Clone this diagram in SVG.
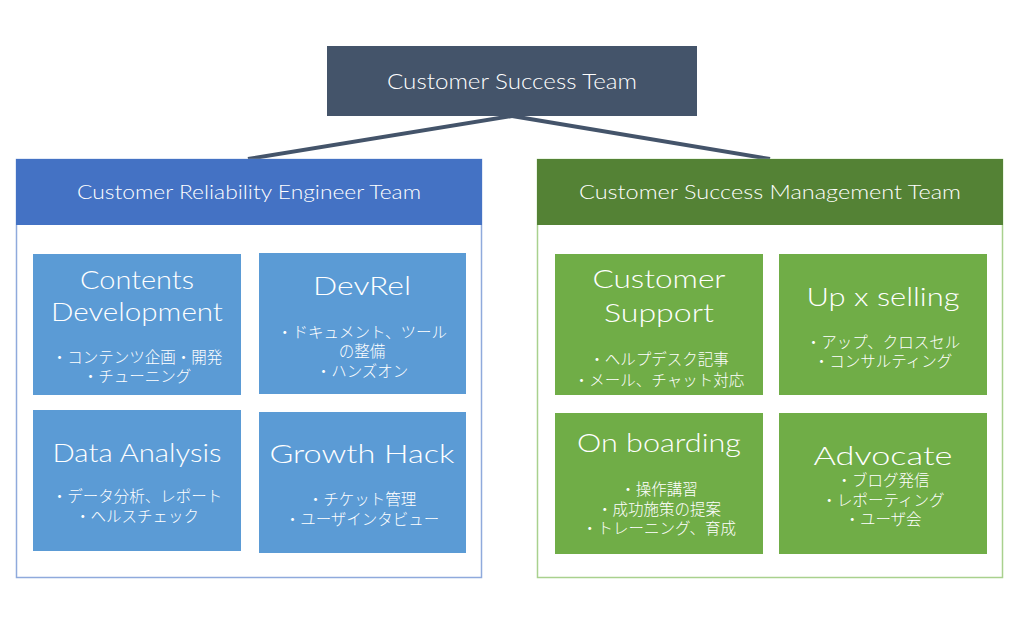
<svg xmlns="http://www.w3.org/2000/svg" width="1024" height="638" viewBox="0 0 1024 638">
<style>
.t{fill:#fff;text-anchor:middle;font-family:"Lato","Noto Sans","Noto Sans CJK JP",sans-serif;font-weight:300}
.h{font-size:19px}
.b{font-size:26px}
.j{fill:#fff;text-anchor:middle;font-family:"Noto Sans CJK JP",sans-serif;font-size:15.5px;font-weight:300}
.cb{fill:#5B9BD5}
.cg{fill:#70AD47}
</style>
<rect width="1024" height="638" fill="#fff"/>
<g id="connectors" stroke="#44546A" stroke-width="4" fill="none">
<line x1="512" y1="116" x2="248" y2="159"/>
<line x1="512" y1="116" x2="770" y2="159"/>
</g>
<g id="root">
<rect x="327" y="46" width="370" height="70" fill="#44546A"/>
<text class="t" x="512" y="89" textLength="250" lengthAdjust="spacingAndGlyphs" style="font-size:21px">Customer Success Team</text>
</g>
<g id="cre-team">
<rect x="16.5" y="159.5" width="465" height="418" fill="#fff" stroke="#8FAADC" stroke-width="1.5"/>
<rect x="16" y="159" width="466" height="66" fill="#4472C4"/>
<text class="t h" x="249" y="199" textLength="344" lengthAdjust="spacingAndGlyphs">Customer Reliability Engineer Team</text>
</g>
<g id="csm-team">
<rect x="537.5" y="159.5" width="465" height="418" fill="#fff" stroke="#A9D18E" stroke-width="1.5"/>
<rect x="537" y="159" width="466" height="66" fill="#548235"/>
<text class="t h" x="770" y="199" textLength="382" lengthAdjust="spacingAndGlyphs">Customer Success Management Team</text>
</g>
<g id="contents-dev">
<rect class="cb" x="33" y="254" width="208" height="141"/>
<text class="t b" x="137" y="289" textLength="114" lengthAdjust="spacingAndGlyphs">Contents</text>
<text class="t b" x="137" y="321" textLength="172" lengthAdjust="spacingAndGlyphs">Development</text>
<text class="j" x="137" y="363">・コンテンツ企画・開発</text>
<text class="j" x="137" y="382">・チューニング</text>
</g>
<g id="devrel">
<rect class="cb" x="259" y="253" width="207" height="141"/>
<text class="t b" x="362" y="295" textLength="98" lengthAdjust="spacingAndGlyphs">DevRel</text>
<text class="j" x="362" y="338">・ドキュメント、ツール</text>
<text class="j" x="362" y="357">の整備</text>
<text class="j" x="362" y="377">・ハンズオン</text>
</g>
<g id="data-analysis">
<rect class="cb" x="33" y="410" width="208" height="141"/>
<text class="t b" x="137" y="462" textLength="169" lengthAdjust="spacingAndGlyphs">Data Analysis</text>
<text class="j" x="137" y="502">・データ分析、レポート</text>
<text class="j" x="137" y="522">・ヘルスチェック</text>
</g>
<g id="growth-hack">
<rect class="cb" x="259" y="412" width="207" height="141"/>
<text class="t b" x="362" y="463" textLength="185" lengthAdjust="spacingAndGlyphs">Growth Hack</text>
<text class="j" x="362" y="505">・チケット管理</text>
<text class="j" x="362" y="525">・ユーザインタビュー</text>
</g>
<g id="customer-support">
<rect class="cg" x="555" y="254" width="208" height="141"/>
<text class="t b" x="659" y="288" textLength="133" lengthAdjust="spacingAndGlyphs">Customer</text>
<text class="t b" x="659" y="322" textLength="110" lengthAdjust="spacingAndGlyphs">Support</text>
<text class="j" x="659" y="365">・ヘルプデスク記事</text>
<text class="j" x="659" y="386">・メール、チャット対応</text>
</g>
<g id="up-x-selling">
<rect class="cg" x="779" y="254" width="208" height="141"/>
<text class="t b" x="883" y="306" textLength="153" lengthAdjust="spacingAndGlyphs">Up x selling</text>
<text class="j" x="883" y="348">・アップ、クロスセル</text>
<text class="j" x="883" y="367">・コンサルティング</text>
</g>
<g id="on-boarding">
<rect class="cg" x="555" y="413" width="208" height="141"/>
<text class="t b" x="659" y="452" textLength="164" lengthAdjust="spacingAndGlyphs">On boarding</text>
<text class="j" x="659" y="495">・操作講習</text>
<text class="j" x="659" y="515">・成功施策の提案</text>
<text class="j" x="659" y="534">・トレーニング、育成</text>
</g>
<g id="advocate">
<rect class="cg" x="779" y="413" width="208" height="141"/>
<text class="t b" x="883" y="465" textLength="139" lengthAdjust="spacingAndGlyphs">Advocate</text>
<text class="j" x="883" y="486">・ブログ発信</text>
<text class="j" x="883" y="506">・レポーティング</text>
<text class="j" x="883" y="525">・ユーザ会</text>
</g>
</svg>
